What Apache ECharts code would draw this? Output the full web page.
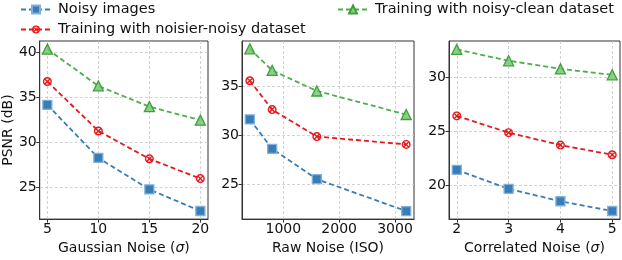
<!DOCTYPE html>
<html>
<head>
<meta charset="utf-8">
<script src="https://cdn.jsdelivr.net/npm/echarts@6/dist/echarts.min.js"></script>
<style>html,body{margin:0;padding:0;background:#fff}#c{width:622px;height:260px}</style>
</head>
<body>
<div id="c"></div>
<script>
// ---- data ----
const seriesNames = ['Noisy images', 'Training with noisier-noisy dataset', 'Training with noisy-clean dataset'];

const gaussX = [5, 10, 15, 20];
const gaussNoisy = [34.2, 28.3, 24.8, 22.4];
const gaussNoisier = [36.8, 31.3, 28.2, 26.0];
const gaussClean = [40.4, 36.3, 34.0, 32.5];

const rawX = [400, 800, 1600, 3200];
const rawNoisy = [31.6, 28.6, 25.5, 22.25];
const rawNoisier = [35.55, 32.6, 29.85, 29.05];
const rawClean = [38.8, 36.6, 34.5, 32.1];

const corrX = [2, 3, 4, 5];
const corrNoisy = [21.45, 19.7, 18.55, 17.65];
const corrNoisier = [26.45, 24.9, 23.75, 22.85];
const corrClean = [32.6, 31.55, 30.8, 30.25];

const xTicks = [[5, 10, 15, 20], [1000, 2000, 3000], [2, 3, 4, 5]];
const yTicks = [[25, 30, 35, 40], [25, 30, 35], [20, 25, 30]];
const xNames = [['Gaussian Noise (', 'σ', ')'], ['Raw Noise (ISO)', '', ''], ['Correlated Noise (', 'σ', ')']];
const yName = 'PSNR (dB)';

// ---- styling ----
const colors = ['#377eb8', '#e41a1c', '#4daf4a'];
const fillCols = ['#377eb8', '#e41a1c', 'rgba(120,200,115,0.85)'];
const borderCols = ['rgba(130,175,220,1)', '#e41a1c', '#3f9f3c'];
const crossCircle = 'path://M10,0 A10,10 0 1,1 9.99,0 Z M10,3.2 A6.8,6.8 0 1,0 10.01,3.2 Z M3.2,5.4 L5.4,3.2 L10,7.8 L14.6,3.2 L16.8,5.4 L12.2,10 L16.8,14.6 L14.6,16.8 L10,12.2 L5.4,16.8 L3.2,14.6 L7.8,10 Z';
const symbols = ['rect', crossCircle, 'triangle'];
const symSizes = [9, 9, 10];

const xRanges = [[4.25, 20.75], [260, 3340], [1.85, 5.15]];
const yRanges = [[21.5, 41.3], [21.43, 39.6], [16.9, 33.38]];
const grids = [
  {left: 36, top: 41, width: 172, height: 187},
  {left: 242, top: 41, width: 172, height: 187},
  {left: 449, top: 41, width: 171, height: 187}
];
const font = 'DejaVu Sans';
const gridLine = {show: true, lineStyle: {color: '#c8c8c8', type: [3, 2], width: 0.8}};

function pair(xs, ys) { return xs.map((x, i) => [x, ys[i]]); }
const panelData = [
  [gaussNoisy, gaussNoisier, gaussClean, gaussX],
  [rawNoisy, rawNoisier, rawClean, rawX],
  [corrNoisy, corrNoisier, corrClean, corrX]
];

const nameRich = {
  a: {fontFamily: font, fontSize: 14, color: '#111'},
  i: {fontFamily: font, fontSize: 14, color: '#111', fontStyle: 'italic'}
};

const xAxes = [], yAxes = [], series = [];
for (let p = 0; p < 3; p++) {
  const nm = xNames[p];
  const nameStr = '{a|' + nm[0] + '}' + (nm[1] ? '{i|' + nm[1] + '}' : '') + (nm[2] ? '{a|' + nm[2] + '}' : '');
  xAxes.push({
    type: 'value', gridIndex: p, min: xRanges[p][0], max: xRanges[p][1],
    name: nameStr, nameLocation: 'middle', nameGap: 16,
    nameTextStyle: {fontFamily: font, fontSize: 14, color: '#111', rich: nameRich},
    axisLine: {show: true, onZero: false, lineStyle: {color: '#333', width: 1}},
    axisTick: {show: true, length: 3.5, customValues: xTicks[p], lineStyle: {color: '#333'}},
    axisLabel: {customValues: xTicks[p], fontFamily: font, fontSize: 14, color: '#111', margin: 3,
                formatter: v => String(v)},
    splitLine: Object.assign({customValues: xTicks[p]}, gridLine)
  });
  yAxes.push({
    type: 'value', gridIndex: p, min: yRanges[p][0], max: yRanges[p][1],
    name: p === 0 ? yName : '', nameLocation: 'middle', nameGap: 22,
    nameTextStyle: {fontFamily: font, fontSize: 14, color: '#111'},
    axisLine: {show: true, onZero: false, lineStyle: {color: '#333', width: 1}},
    axisTick: {show: true, length: 3.5, customValues: yTicks[p], lineStyle: {color: '#333'}},
    axisLabel: {customValues: yTicks[p], fontFamily: font, fontSize: 14, color: '#111', margin: 3,
                formatter: v => String(v)},
    splitLine: Object.assign({customValues: yTicks[p]}, gridLine)
  });
  for (let s = 0; s < 3; s++) {
    series.push({
      type: 'line', name: seriesNames[s], xAxisIndex: p, yAxisIndex: p,
      data: pair(panelData[p][3], panelData[p][s]),
      symbol: symbols[s], symbolSize: symSizes[s],
      lineStyle: {color: colors[s], width: 1.8, type: [5, 3]},
      itemStyle: {color: fillCols[s], borderColor: borderCols[s], borderWidth: s === 1 ? 0 : 1.3},
      animation: false, z: 3 + s
    });
  }
}

const chart = echarts.init(document.getElementById('c'), null, {renderer: 'canvas'});
chart.setOption({
  animation: false,
  grid: grids.map(g => Object.assign({show: true, borderColor: '#333', borderWidth: 1, backgroundColor: 'transparent'}, g)),
  xAxis: xAxes,
  yAxis: yAxes,
  legend: [
    {data: [seriesNames[0], seriesNames[1]], orient: 'vertical', left: 15, top: -3, itemWidth: 30, itemHeight: 10, itemGap: 5,
     textStyle: {fontFamily: font, fontSize: 14.5, color: '#111', padding: [0, 0, 0, 2]}},
    {data: [seriesNames[2]], orient: 'vertical', left: 332, top: -3, itemWidth: 30, itemHeight: 10, itemGap: 5,
     textStyle: {fontFamily: font, fontSize: 14.5, color: '#111', padding: [0, 0, 0, 2]}}
  ],
  series: series
});
</script>
</body>
</html>
